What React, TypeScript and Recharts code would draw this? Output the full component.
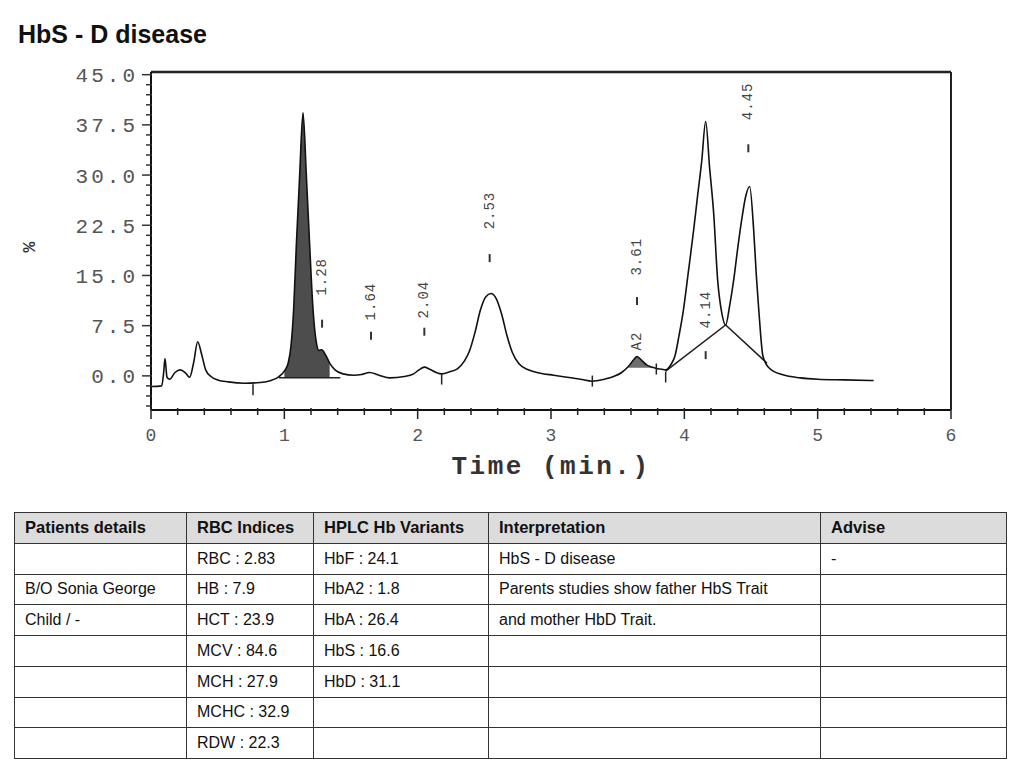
import { Area, ComposedChart, Line, Scatter, XAxis, YAxis } from 'recharts'

// chromatogram trace: [time (min), %]
const trace: [number, number][] = [
	[0.0, -1.6], [0.08, -1.5], [0.095, 0.5], [0.105, 2.6], [0.12, -0.2], [0.14, -0.5],
	[0.18, 0.5], [0.22, 0.9], [0.26, 0.4], [0.29, -0.2], [0.32, 2.0], [0.35, 5.1],
	[0.38, 3.2], [0.41, 0.9], [0.45, -0.1], [0.5, -0.6], [0.58, -0.9], [0.7, -1.1],
	[0.82, -1.0], [0.9, -0.7], [0.96, -0.1], [1.0, 0.7], [1.03, 2.0], [1.05, 4.5],
	[1.07, 10], [1.09, 19.5], [1.115, 30], [1.14, 39.3], [1.165, 30], [1.19, 19.5],
	[1.215, 10], [1.24, 5.0], [1.26, 3.8], [1.28, 3.9], [1.31, 3.1], [1.34, 1.9],
	[1.38, 0.9], [1.44, 0.3], [1.52, 0.1], [1.58, 0.2], [1.64, 0.5], [1.71, 0.1],
	[1.79, -0.3], [1.9, -0.1], [1.97, 0.3], [2.01, 0.9], [2.05, 1.3], [2.09, 1.0],
	[2.14, 0.5], [2.18, 0.3], [2.24, 0.6], [2.3, 1.1], [2.35, 2.2], [2.39, 3.8],
	[2.43, 6.5], [2.47, 9.8], [2.51, 11.8], [2.55, 12.3], [2.59, 11.5], [2.63, 9.2],
	[2.67, 6.0], [2.71, 3.5], [2.76, 1.8], [2.83, 0.9], [2.92, 0.4], [3.02, 0.1],
	[3.12, -0.2], [3.22, -0.5], [3.31, -0.8], [3.4, -0.5], [3.47, -0.1], [3.53, 0.5],
	[3.58, 1.4], [3.62, 2.4], [3.645, 2.9], [3.68, 2.3], [3.72, 1.6], [3.76, 1.3],
	[3.79, 1.1], [3.83, 1.0], [3.86, 0.9], [3.9, 1.7], [3.93, 3.0], [3.96, 6.0],
	[3.99, 9.4], [4.03, 15.5], [4.07, 21.8], [4.1, 27], [4.13, 32], [4.16, 38.0],
	[4.19, 31], [4.22, 24.3], [4.25, 14.3], [4.28, 9.5], [4.31, 7.6], [4.34, 10.5],
	[4.37, 14.3], [4.4, 19], [4.43, 23.3], [4.46, 26.8], [4.49, 28.3], [4.52, 21.8],
	[4.54, 15], [4.56, 9.4], [4.59, 2.9], [4.64, 1.1], [4.74, 0.15], [4.87, -0.3],
	[5.0, -0.5], [5.2, -0.6], [5.42, -0.7],
]

// integrated (shaded) windows
const hbfShade = [1.0, 1.36]
const a2Shade = [3.56, 3.77]

// integration baselines drawn by the analyser
const hbfBaseline = [
	{ t: 0.96, y: -0.3 },
	{ t: 1.42, y: -0.3 },
]
const hbsdBaseline = [
	{ t: 3.86, y: 0.7 },
	{ t: 4.31, y: 7.6 },
	{ t: 4.62, y: 1.9 },
]

// retention time labels + dashes
const peakLabels = [
	{ t: 1.283, y: 14.8, text: '1.28' },
	{ t: 1.65, y: 11.1, text: '1.64' },
	{ t: 2.05, y: 11.4, text: '2.04' },
	{ t: 2.54, y: 24.7, text: '2.53' },
	{ t: 3.645, y: 17.8, text: '3.61' },
	{ t: 3.645, y: 5.2, text: 'A2' },
	{ t: 4.16, y: 9.9, text: '4.14' },
	{ t: 4.48, y: 41, text: '4.45' },
]
const peakDashes = [
	{ t: 1.283, y: 7.8 },
	{ t: 1.65, y: 6.0 },
	{ t: 2.05, y: 6.6 },
	{ t: 2.54, y: 17.6 },
	{ t: 3.645, y: 11.2 },
	{ t: 4.16, y: 3.1 },
	{ t: 4.48, y: 34 },
]
const boundaryMarks = [
	{ t: 0.765, y: -2.0 },
	{ t: 2.18, y: -0.4 },
	{ t: 3.31, y: -0.7 },
	{ t: 3.79, y: 1.1 },
	{ t: 3.86, y: -0.1 },
]

const xTicks = Array.from({ length: 31 }, (_, i) => i / 5)
const yTicks = Array.from({ length: 34 }, (_, i) => -4.5 + i * 1.5)

const tableHeaders = ['Patients details', 'RBC Indices', 'HPLC Hb Variants', 'Interpretation', 'Advise']
const patientDetails = ['', 'B/O Sonia George', 'Child / -', '', '', '', '']
const rbcIndices = ['RBC : 2.83', 'HB : 7.9', 'HCT : 23.9', 'MCV : 84.6', 'MCH : 27.9', 'MCHC : 32.9', 'RDW : 22.3']
const hplcVariants = ['HbF : 24.1', 'HbA2 : 1.8', 'HbA : 26.4', 'HbS : 16.6', 'HbD : 31.1', '', '']
const interpretation = ['HbS - D disease', 'Parents studies show father HbS Trait', 'and mother HbD Trait.', '', '', '', '']
const advise = ['-', '', '', '', '', '', '']

const inRange = (t: number, r: number[]) => t >= r[0] && t <= r[1]

const rows = trace.map(([t, y]) => ({
	t,
	y,
	hbf: inRange(t, hbfShade) ? y : null,
	a2: inRange(t, a2Shade) ? y : null,
}))

const mono = "'Liberation Mono', 'DejaVu Sans Mono', monospace"
const sans = "'Liberation Sans', Arial, sans-serif"

const XTick = (p: any) => {
	const { x, y, payload } = p
	const v = payload.value
	const major = Math.abs(v - Math.round(v)) < 1e-6
	return (
		<g>
			<line x1={x} x2={x} y1={y - 2} y2={y + (major ? 9 : 5)} stroke='#222' strokeWidth={1.5} />
			{major && (
				<text x={x} y={y + 31} textAnchor='middle' fontFamily={mono} fontSize={18} fill='#555'>
					{Math.round(v)}
				</text>
			)}
		</g>
	)
}

const YTick = (p: any) => {
	const { x, y, payload } = p
	const v = payload.value
	const major = v >= 0 && v % 7.5 === 0
	return (
		<g>
			<line x1={x - (major ? 9 : 5)} x2={x + 1} y1={y} y2={y} stroke='#333' strokeWidth={1.5} />
			{major && (
				<text
					x={x - 13}
					y={y}
					dy='0.36em'
					textAnchor='end'
					fontFamily={mono}
					fontSize={21}
					letterSpacing={3}
					fill='#555'
				>
					{v.toFixed(1)}
				</text>
			)}
		</g>
	)
}

const LabelShape = (p: any) => {
	const { cx, cy, payload } = p
	return (
		<text
			x={cx}
			y={cy}
			transform={`rotate(-90 ${cx} ${cy})`}
			textAnchor='middle'
			dominantBaseline='central'
			fontFamily={mono}
			fontSize={14}
			letterSpacing={1}
			fill='#444'
		>
			{payload.text}
		</text>
	)
}

const DashShape = (p: any) => (
	<line x1={p.cx} x2={p.cx} y1={p.cy - 4} y2={p.cy + 4} stroke='#333' strokeWidth={2} />
)

const MarkShape = (p: any) => (
	<line x1={p.cx} x2={p.cx} y1={p.cy - 5} y2={p.cy + 6} stroke='#222' strokeWidth={1.5} />
)

function Chromatogram() {
	return (
		<ComposedChart
			width={1024}
			height={500}
			data={rows}
			margin={{ top: 71, right: 72, bottom: 0, left: 91 }}
		>
			<XAxis
				type='number'
				dataKey='t'
				domain={[0, 6]}
				ticks={xTicks}
				interval={0}
				height={90}
				tickSize={0}
				tickMargin={0}
				tickLine={false}
				axisLine={{ stroke: '#111', strokeWidth: 2 }}
				tick={XTick}
				label={{
					value: 'Time (min.)',
					position: 'insideBottom',
					offset: 26,
					style: { fontFamily: mono, fontSize: 26, fontWeight: 700, letterSpacing: 2.5, fill: '#333' },
				}}
			/>
			<XAxis
				xAxisId='top'
				orientation='top'
				type='number'
				dataKey='t'
				domain={[0, 6]}
				height={1}
				tick={false}
				tickLine={false}
				axisLine={{ stroke: '#222', strokeWidth: 2.5 }}
			/>
			<YAxis
				type='number'
				domain={[-5.1, 45.4]}
				allowDataOverflow
				ticks={yTicks}
				interval={0}
				width={60}
				tickSize={0}
				tickMargin={0}
				tickLine={false}
				axisLine={{ stroke: '#111', strokeWidth: 2 }}
				tick={YTick}
				label={{
					content: () => (
						<text x={35} y={247} textAnchor='middle' fontFamily={mono} fontSize={18} fontWeight={700} fill='#333' transform='rotate(-90 35 247)'>
							%
						</text>
					),
				}}
			/>
			<YAxis
				yAxisId='right'
				orientation='right'
				type='number'
				domain={[-5.1, 45.4]}
				width={1}
				tick={false}
				tickLine={false}
				axisLine={{ stroke: '#222', strokeWidth: 2 }}
			/>
			<Area
				dataKey='hbf'
				type='monotone'
				baseValue={-0.3}
				stroke='none'
				fill='#3a3a3a'
				fillOpacity={0.9}
				isAnimationActive={false}
			/>
			<Area
				dataKey='a2'
				type='monotone'
				baseValue={1.2}
				stroke='none'
				fill='#555'
				fillOpacity={0.85}
				isAnimationActive={false}
			/>
			<Line data={hbfBaseline} dataKey='y' stroke='#222' strokeWidth={1.5} dot={false} isAnimationActive={false} />
			<Line data={hbsdBaseline} dataKey='y' stroke='#222' strokeWidth={1.5} dot={false} isAnimationActive={false} />
			<Line dataKey='y' type='monotone' stroke='#111' strokeWidth={1.6} dot={false} isAnimationActive={false} />
			<Scatter data={peakDashes} dataKey='y' shape={DashShape} isAnimationActive={false} />
			<Scatter data={boundaryMarks} dataKey='y' shape={MarkShape} isAnimationActive={false} />
			<Scatter data={peakLabels} dataKey='y' shape={LabelShape} isAnimationActive={false} />
		</ComposedChart>
	)
}

const colWidths = [172, 127, 175, 332, 186]
const cell = {
	border: '1.5px solid #333',
	padding: '0 0 0 10px',
	height: 29.75,
	textAlign: 'left' as const,
	verticalAlign: 'middle' as const,
	whiteSpace: 'nowrap' as const,
}

function ReportTable() {
	const columns = [patientDetails, rbcIndices, hplcVariants, interpretation, advise]
	return (
		<table
			style={{
				position: 'absolute',
				left: 14,
				top: 512,
				width: 992,
				borderCollapse: 'collapse',
				tableLayout: 'fixed',
				fontFamily: sans,
				fontSize: 16,
				color: '#111',
			}}
		>
			<colgroup>
				{colWidths.map((w, i) => (
					<col key={i} style={{ width: w }} />
				))}
			</colgroup>
			<thead>
				<tr>
					{tableHeaders.map((h) => (
						<th key={h} style={{ ...cell, background: '#dcdcdc', fontWeight: 700, fontSize: 16.5 }}>
							{h}
						</th>
					))}
				</tr>
			</thead>
			<tbody>
				{rbcIndices.map((_, r) => (
					<tr key={r}>
						{columns.map((col, c) => (
							<td key={c} style={cell}>
								{col[r]}
							</td>
						))}
					</tr>
				))}
			</tbody>
		</table>
	)
}

export default function App() {
	return (
		<div style={{ position: 'absolute', left: 0, top: 0, width: 1024, height: 768, background: '#fff' }}>
			<div
				style={{
					position: 'absolute',
					left: 18,
					top: 22,
					fontFamily: sans,
					fontWeight: 700,
					fontSize: 25,
					lineHeight: 1,
					color: '#111',
				}}
			>
				HbS - D disease
			</div>
			<div style={{ position: 'absolute', left: 0, top: 0 }}>
				<Chromatogram />
			</div>
			<ReportTable />
		</div>
	)
}
